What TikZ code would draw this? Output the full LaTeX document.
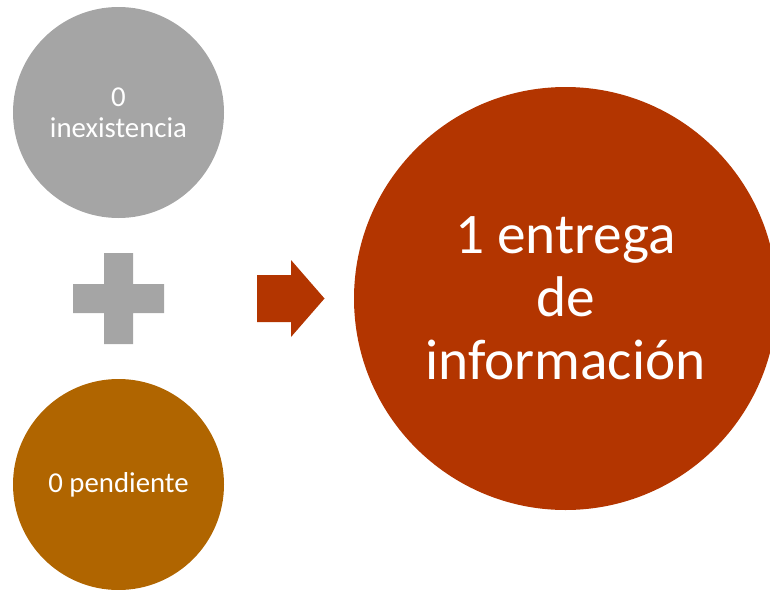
\documentclass[tikz,border=0pt]{standalone}
\usepackage{fontspec}
\setmainfont{Carlito}
\definecolor{greyfill}{HTML}{A5A5A5}
\definecolor{ochrefill}{HTML}{B06500}
\definecolor{rustfill}{HTML}{B33500}
\begin{document}
\begin{tikzpicture}[x=0.75pt, y=-0.75pt]
	\tikzstyle{bubble} = [circle,inner sep=0pt,text=white,align=center,minimum size=158.25pt,font=\fontsize{21.6}{23.3}\selectfont]
	\tikzstyle{bigbubble} = [bubble,minimum size=317.25pt,font=\fontsize{43}{47.3}\selectfont]
	\clip (0,0) rectangle (770,589);
	\node[bubble,fill=greyfill]at (118.5,112.5)(missing){0\\inexistencia};
	\node[bubble,fill=ochrefill]at (118.5,484.5)(pending){0 pendiente};
	\node[bigbubble,fill=rustfill]at (565.5,298.5)(delivered){1 entrega\\de\\información};
	% plus sign and arrow
	\fill[greyfill] (73,284) rectangle (164,313) (104,253) rectangle (133,344);
	\fill[rustfill] (257,275) -- (291,275) -- (291,260) -- (324.5,298.5)
	-- (291,337) -- (291,322) -- (257,322) -- cycle;
\end{tikzpicture}
\end{document}
